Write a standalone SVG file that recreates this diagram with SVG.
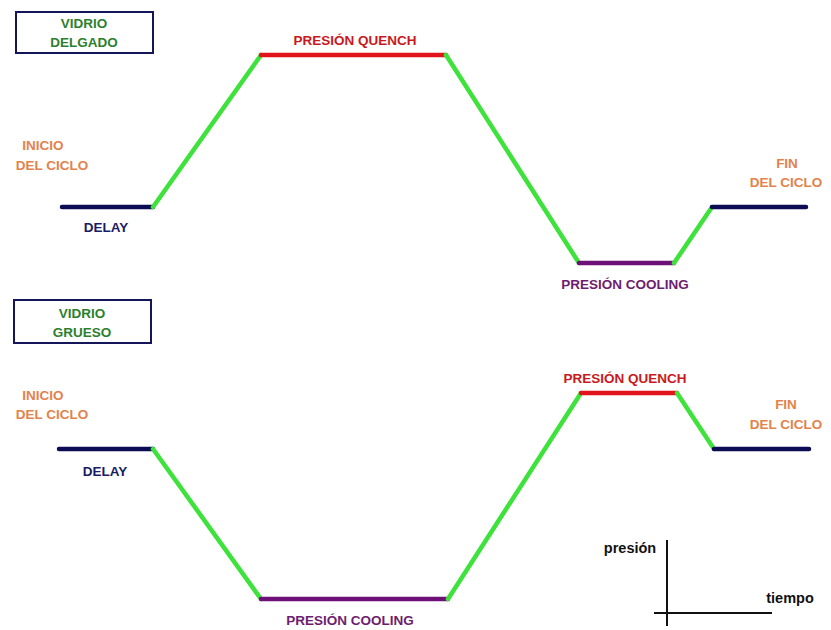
<svg xmlns="http://www.w3.org/2000/svg" width="831" height="630" viewBox="0 0 831 630">
  <style>
    text { font-family: "Liberation Sans", Arial, sans-serif; font-weight: bold; font-size: 13.5px; text-anchor: middle; }
    .glass { fill: #2d7f2d; }
    .cycle { fill: #e3824a; }
    .quench { fill: #c8191c; }
    .cooling { fill: #6d1d70; }
    .delay { fill: #1b1b66; }
    .axis-label { fill: #111; font-size: 14.5px; }
    .box { fill: #fff; stroke: #15155a; stroke-width: 2; }
    .seg { fill: none; stroke-width: 4.5; stroke-linecap: round; }
    .ramp { stroke: #3de23a; }
    .s-delay { stroke: #0c0c55; }
    .s-quench { stroke: #e0141a; }
    .s-cooling { stroke: #6f0f78; }
    .axis { stroke: #111; stroke-width: 2; fill: none; }
  </style>
  <rect width="831" height="630" fill="#fff"/>

  <g id="connectors">
    <!-- Thin glass curve -->
    <g id="curve-thin">
      <line class="seg s-delay" x1="62" y1="207" x2="153" y2="207"/>
      <line class="seg ramp" x1="153" y1="207" x2="261" y2="55"/>
      <line class="seg s-quench" x1="261" y1="55" x2="446" y2="55"/>
      <line class="seg ramp" x1="446" y1="55" x2="579" y2="263"/>
      <line class="seg s-cooling" x1="579" y1="263" x2="674" y2="263"/>
      <line class="seg ramp" x1="674" y1="263" x2="712" y2="207"/>
      <line class="seg s-delay" x1="712" y1="207" x2="806" y2="207"/>
    </g>
    <!-- Thick glass curve -->
    <g id="curve-thick">
      <line class="seg s-delay" x1="59" y1="449" x2="153" y2="449"/>
      <line class="seg ramp" x1="153" y1="449" x2="261" y2="599"/>
      <line class="seg s-cooling" x1="261" y1="599" x2="448" y2="599"/>
      <line class="seg ramp" x1="448" y1="599" x2="581" y2="393"/>
      <line class="seg s-quench" x1="581" y1="393" x2="677" y2="393"/>
      <line class="seg ramp" x1="677" y1="393" x2="714" y2="449"/>
      <line class="seg s-delay" x1="714" y1="449" x2="809" y2="449"/>
    </g>
  </g>

  <!-- Thin glass labels -->
  <g id="box-thin">
    <rect class="box" x="16" y="12" width="137" height="41"/>
    <text class="glass" x="84" y="28">VIDRIO</text>
    <text class="glass" x="84" y="47">DELGADO</text>
  </g>
  <g id="start-thin">
    <text class="cycle" x="43" y="150">INICIO</text>
    <text class="cycle" x="52" y="170">DEL CICLO</text>
  </g>
  <g id="delay-thin"><text class="delay" x="106" y="232">DELAY</text></g>
  <g id="quench-thin"><text class="quench" x="355" y="45">PRESIÓN QUENCH</text></g>
  <g id="cooling-thin"><text class="cooling" x="625" y="289">PRESIÓN COOLING</text></g>
  <g id="end-thin">
    <text class="cycle" x="787" y="168">FIN</text>
    <text class="cycle" x="786" y="187">DEL CICLO</text>
  </g>

  <!-- Thick glass labels -->
  <g id="box-thick">
    <rect class="box" x="14" y="300" width="137" height="43"/>
    <text class="glass" x="82" y="318">VIDRIO</text>
    <text class="glass" x="82" y="337">GRUESO</text>
  </g>
  <g id="start-thick">
    <text class="cycle" x="43" y="400">INICIO</text>
    <text class="cycle" x="52" y="419">DEL CICLO</text>
  </g>
  <g id="delay-thick"><text class="delay" x="105" y="476">DELAY</text></g>
  <g id="quench-thick"><text class="quench" x="625" y="383">PRESIÓN QUENCH</text></g>
  <g id="cooling-thick"><text class="cooling" x="350" y="625">PRESIÓN COOLING</text></g>
  <g id="end-thick">
    <text class="cycle" x="786" y="409">FIN</text>
    <text class="cycle" x="786" y="429">DEL CICLO</text>
  </g>

  <!-- Axes legend -->
  <g id="axes">
    <line class="axis" x1="667" y1="540" x2="667" y2="626"/>
    <line class="axis" x1="654" y1="613" x2="772" y2="613"/>
    <text class="axis-label" x="630" y="553">presión</text>
    <text class="axis-label" x="790" y="603">tiempo</text>
  </g>
</svg>
